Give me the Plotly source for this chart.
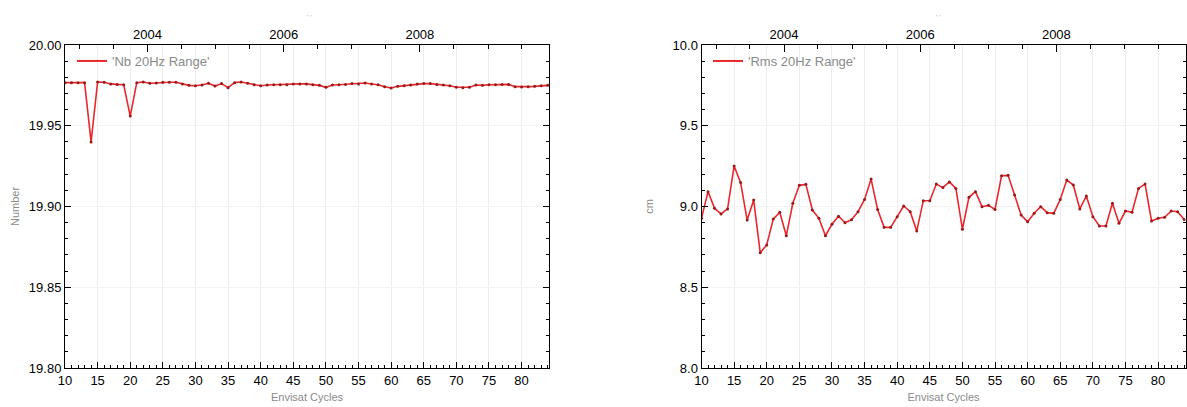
import plotly.graph_objects as go
import pandas as pd

# ---------------- data ----------------
cycles = list(range(10, 85))

nb_20hz_range = [
    19.9767, 19.9767, 19.9767, 19.9767, 19.9400, 19.9771, 19.9769, 19.9759, 19.9756, 19.9754,
    19.9560, 19.9767, 19.9771, 19.9763, 19.9765, 19.9769, 19.9769, 19.9769, 19.9759, 19.9750,
    19.9748, 19.9752, 19.9763, 19.9746, 19.9761, 19.9736, 19.9767, 19.9771, 19.9763, 19.9754,
    19.9748, 19.9752, 19.9754, 19.9754, 19.9754, 19.9759, 19.9759, 19.9759, 19.9754, 19.9750,
    19.9738, 19.9752, 19.9754, 19.9756, 19.9761, 19.9759, 19.9765, 19.9759, 19.9754, 19.9742,
    19.9734, 19.9744, 19.9748, 19.9752, 19.9759, 19.9761, 19.9761, 19.9756, 19.9752, 19.9748,
    19.9738, 19.9736, 19.9738, 19.9752, 19.9750, 19.9754, 19.9754, 19.9756, 19.9756, 19.9742,
    19.9740, 19.9742, 19.9744, 19.9748, 19.9750,
]

rms_20hz_range = [
    8.927, 9.092, 8.989, 8.954, 8.985, 9.251, 9.148, 8.916, 9.040, 8.714,
    8.762, 8.922, 8.964, 8.819, 9.020, 9.131, 9.137, 8.978, 8.927, 8.819,
    8.890, 8.940, 8.900, 8.918, 8.968, 9.044, 9.170, 8.982, 8.871, 8.871,
    8.937, 9.003, 8.968, 8.848, 9.036, 9.036, 9.139, 9.117, 9.152, 9.112,
    8.859, 9.057, 9.092, 8.999, 9.007, 8.982, 9.190, 9.193, 9.071, 8.947,
    8.906, 8.958, 8.999, 8.962, 8.958, 9.044, 9.164, 9.133, 8.985, 9.065,
    8.937, 8.879, 8.879, 9.020, 8.896, 8.972, 8.964, 9.112, 9.139, 8.910,
    8.927, 8.933, 8.972, 8.968, 8.920,
]

series_names = ["'Nb 20Hz Range'", "'Rms 20Hz Range'"]
year_labels = ["2004", "2006", "2008"]
half_year_dates = [f"{y}-{m:02d}-01" for y in range(2002, 2010) for m in (1, 7)]
cycle10_start = "2002-10-15"
cycle_days = 35.0

x_range = [10, 84.2]


def date_to_cycle(d):
    return 10 + (pd.Timestamp(d) - pd.Timestamp(cycle10_start)).days / cycle_days


year_vals = [date_to_cycle(f"{y}-01-01") for y in year_labels]
half_year_vals = [date_to_cycle(d) for d in half_year_dates]

# ---------------- style ----------------
W, H = 1187, 407
FONT = "Liberation Sans, Arial, sans-serif"
LINE_RED = "#e8282e"
DOT = "#9a1a1a"
GRAY = "#8a8a8a"


def px_x(p):
    return p / W


def px_y(p):
    return (H - p) / H


left_dom = [px_x(65), px_x(549)]
right_dom = [px_x(701.5), px_x(1185.5)]
y_dom = [px_y(368), px_y(45)]

fig = go.Figure()

for xa, ya, vals, name, lg in [("x", "y", nb_20hz_range, series_names[0], "legend"),
                               ("x2", "y2", rms_20hz_range, series_names[1], "legend2")]:
    fig.add_trace(go.Scatter(
        x=cycles, y=vals, mode="lines+markers", name=name,
        line=dict(color=LINE_RED, width=1.6), marker=dict(color=DOT, size=3),
        xaxis=xa, yaxis=ya, showlegend=False,
    ))
    # legend-only entry (line sample without markers)
    fig.add_trace(go.Scatter(
        x=[None], y=[None], mode="lines", name=name,
        line=dict(color=LINE_RED, width=2), xaxis=xa, yaxis=ya, legend=lg,
    ))

# invisible helpers so the top (year) axes are drawn
fig.add_trace(go.Scatter(x=cycles, y=nb_20hz_range, mode="lines", opacity=0,
                         showlegend=False, hoverinfo="skip", xaxis="x3", yaxis="y"))
fig.add_trace(go.Scatter(x=cycles, y=rms_20hz_range, mode="lines", opacity=0,
                         showlegend=False, hoverinfo="skip", xaxis="x4", yaxis="y2"))

tickfont = dict(family=FONT, size=13, color="black")
titlefont = dict(family=FONT, size=11, color=GRAY)


def bottom_axis(domain, anchor):
    return dict(
        domain=domain, anchor=anchor, range=x_range, automargin=False,
        showline=True, linecolor="black", linewidth=1, mirror=False,
        ticks="inside", ticklen=6, tickcolor="black", tickwidth=1,
        tickmode="linear", tick0=10, dtick=5,
        tickfont=tickfont,
        showgrid=True, gridcolor="#ececec", gridwidth=1,
        zeroline=False,
        minor=dict(ticks="inside", ticklen=3, tickcolor="black",
                   tickmode="linear", tick0=10, dtick=1, showgrid=False),
        title=dict(text="Envisat Cycles", font=titlefont, standoff=6),
    )


def top_axis(overlay, anchor):
    return dict(
        overlaying=overlay, anchor=anchor, side="top", range=x_range, automargin=False,
        showline=True, linecolor="black", linewidth=1,
        ticks="inside", ticklen=7, tickcolor="black",
        tickmode="array", tickvals=year_vals, ticktext=year_labels,
        tickfont=tickfont, showgrid=False, zeroline=False,
        minor=dict(ticks="inside", ticklen=4, tickcolor="black",
                   tickmode="array", tickvals=half_year_vals, showgrid=False),
    )


def y_axis(anchor, rng, dtick, minor_dtick, fmt, title, standoff):
    return dict(
        domain=y_dom, anchor=anchor, range=rng, automargin=False,
        showline=True, linecolor="black", linewidth=1, mirror="ticks",
        ticks="inside", ticklen=6, tickcolor="black",
        tickmode="linear", tick0=rng[0], dtick=dtick, tickformat=fmt,
        tickfont=tickfont, showgrid=True, gridcolor="#f3f3f3", zeroline=False,
        minor=dict(ticks="inside", ticklen=3, tickcolor="black",
                   tickmode="linear", tick0=rng[0], dtick=minor_dtick, showgrid=False),
        title=dict(text=title, font=titlefont, standoff=standoff),
    )


legend_style = dict(
    xanchor="left", yanchor="top", bgcolor="rgba(0,0,0,0)",
    font=dict(family=FONT, size=13, color=GRAY), itemwidth=30,
    tracegroupgap=0,
)

fig.update_layout(
    width=W, height=H,
    margin=dict(l=0, r=0, t=0, b=0, autoexpand=False),
    paper_bgcolor="white", plot_bgcolor="white",
    font=dict(family=FONT),
    xaxis=bottom_axis(left_dom, "y"),
    xaxis2=bottom_axis(right_dom, "y2"),
    xaxis3=top_axis("x", "y"),
    xaxis4=top_axis("x2", "y2"),
    yaxis=y_axis("x", [19.80, 20.00], 0.05, 0.01, ".2f", "Number", 7),
    yaxis2=y_axis("x2", [8.0, 10.0], 0.5, 0.1, ".1f", "cm", 16),
    legend=dict(x=px_x(72), y=px_y(46), **legend_style),
    legend2=dict(x=px_x(708), y=px_y(46), **legend_style),
    showlegend=True,
    annotations=[
        dict(text="' '", x=px_x(305), y=px_y(12), xref="paper", yref="paper",
             showarrow=False, font=dict(family=FONT, size=7, color="#aaaaaa")),
        dict(text="' '", x=px_x(943), y=px_y(12), xref="paper", yref="paper",
             showarrow=False, font=dict(family=FONT, size=7, color="#aaaaaa")),
    ],
)

fig.write_html("out.html")
